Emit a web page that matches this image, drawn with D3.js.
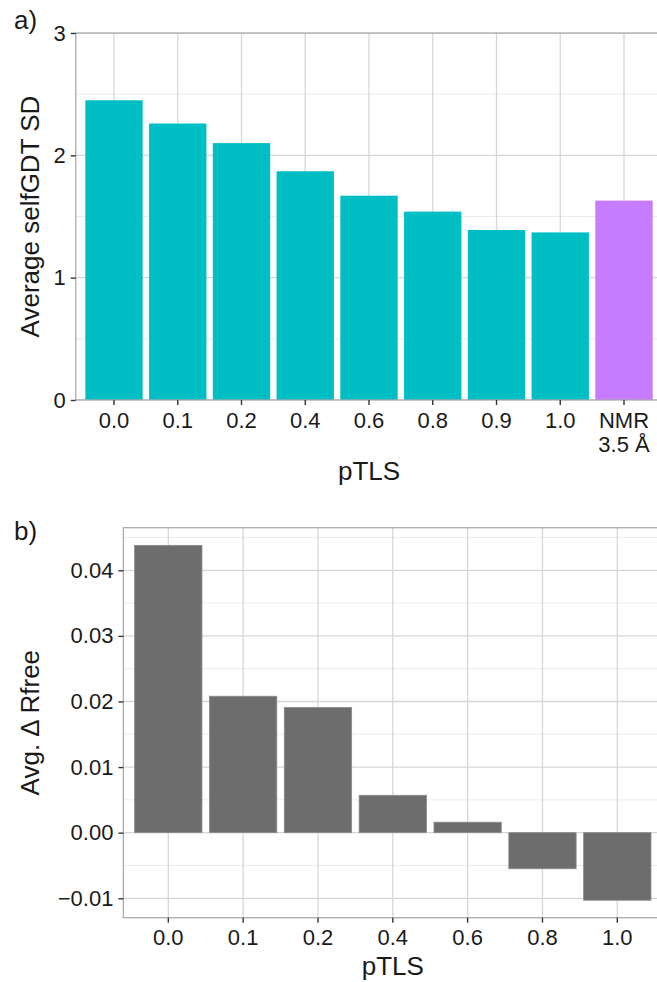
<!DOCTYPE html>
<html>
<head>
<meta charset="utf-8">
<script src="https://cdn.jsdelivr.net/npm/d3@7"></script>
<style>
  body { margin: 0; background: #fff; }
  svg { display: block; font-family: "Liberation Sans", Arial, sans-serif; }
</style>
</head>
<body>
<div id="chart"></div>
<script>
// panel a data
const catsA = ["0.0", "0.1", "0.2", "0.4", "0.6", "0.8", "0.9", "1.0", "NMR\n3.5 Å"];
const valuesA = [2.45, 2.26, 2.10, 1.87, 1.67, 1.54, 1.39, 1.37, 1.63];
const groupA = ["xtal", "xtal", "xtal", "xtal", "xtal", "xtal", "xtal", "xtal", "nmr"];
const ticksA = [0, 1, 2, 3];

// panel b data
const catsB = ["0.0", "0.1", "0.2", "0.4", "0.6", "0.8", "1.0"];
const valuesB = [0.0438, 0.0208, 0.0191, 0.0057, 0.0016, -0.0055, -0.0103];
const ticksB = [-0.01, 0.00, 0.01, 0.02, 0.03, 0.04];

const width = 657, height = 982;
const svg = d3.select("#chart").append("svg")
    .attr("width", width)
    .attr("height", height);

const gridMajor = "#d6d6d6", gridMinor = "#e6e6e6", borderCol = "#aaaaaa";
const textCol = "#1a1a1a";

function panel(opts) {
    const { left, right, top, bottom, cats, values, colors, stroke, yDomain, yTicks, yMinor, yFormat, yTitle, tag, tagY, xTitleY } = opts;

    const x = d3.scaleBand()
        .domain(cats)
        .range([left, right])
        .paddingInner(0.1)
        .paddingOuter(0.15);

    const y = d3.scaleLinear()
        .domain(yDomain)
        .range([bottom, top]);

    const g = svg.append("g");

    // clip so the panel is cut at the right edge like the reference
    const clipId = "clip" + tag.replace(/\W/g, "");
    svg.append("clipPath").attr("id", clipId)
        .append("rect")
        .attr("x", left).attr("y", top)
        .attr("width", right - left).attr("height", bottom - top);

    const inner = g.append("g").attr("clip-path", `url(#${clipId})`);

    // minor grid
    inner.selectAll(".minor")
        .data(yMinor)
        .enter()
        .append("line")
        .attr("x1", left).attr("x2", right)
        .attr("y1", d => y(d)).attr("y2", d => y(d))
        .style("stroke", gridMinor)
        .style("stroke-width", 0.8);

    // major grid
    inner.selectAll(".majorY")
        .data(yTicks)
        .enter()
        .append("line")
        .attr("x1", left).attr("x2", right)
        .attr("y1", d => y(d)).attr("y2", d => y(d))
        .style("stroke", gridMajor)
        .style("stroke-width", 1.3);

    inner.selectAll(".majorX")
        .data(cats)
        .enter()
        .append("line")
        .attr("x1", d => x(d) + x.bandwidth() / 2)
        .attr("x2", d => x(d) + x.bandwidth() / 2)
        .attr("y1", top).attr("y2", bottom)
        .style("stroke", gridMajor)
        .style("stroke-width", 1.3);

    // bars
    inner.selectAll(".bar")
        .data(cats)
        .enter()
        .append("rect")
        .attr("x", d => x(d))
        .attr("width", x.bandwidth())
        .attr("y", (d, i) => y(Math.max(0, values[i])))
        .attr("height", (d, i) => Math.abs(y(values[i]) - y(0)))
        .style("fill", (d, i) => colors[i])
        .style("stroke", stroke || "none")
        .style("stroke-width", 0.8);

    // panel border
    g.append("rect")
        .attr("x", left).attr("y", top)
        .attr("width", right - left).attr("height", bottom - top)
        .style("fill", "none")
        .style("stroke", borderCol)
        .style("stroke-width", 1.3);

    // y axis
    const yAxis = g.append("g")
        .attr("transform", `translate(${left},0)`)
        .call(d3.axisLeft(y).tickValues(yTicks).tickFormat(yFormat).tickSize(5).tickPadding(5));
    yAxis.select(".domain").remove();
    yAxis.selectAll(".tick line").style("stroke", "#333").style("stroke-width", 1.4);
    yAxis.selectAll(".tick text")
        .style("font-size", "22px")
        .style("fill", textCol);

    // x axis
    const xAxis = g.append("g")
        .attr("transform", `translate(0,${bottom})`)
        .call(d3.axisBottom(x).tickSize(5).tickPadding(7));
    xAxis.select(".domain").remove();
    xAxis.selectAll(".tick line").style("stroke", "#333").style("stroke-width", 1.4);
    xAxis.selectAll(".tick text")
        .style("font-size", "22px")
        .style("fill", textCol)
        .each(function(d) {
            const parts = d.split("\n");
            if (parts.length > 1) {
                const t = d3.select(this).text(null);
                parts.forEach((p, i) => {
                    t.append("tspan")
                        .attr("x", 0)
                        .attr("dy", i === 0 ? "0.71em" : "1.1em")
                        .text(p);
                });
            }
        });

    // axis titles
    svg.append("text")
        .attr("x", (left + right) / 2)
        .attr("y", xTitleY)
        .attr("text-anchor", "middle")
        .style("font-size", "26px")
        .style("fill", textCol)
        .text("pTLS");

    svg.append("text")
        .attr("transform", `translate(39,${(top + bottom) / 2}) rotate(-90)`)
        .attr("text-anchor", "middle")
        .style("font-size", "26px")
        .style("fill", textCol)
        .text(yTitle);

    // tag
    svg.append("text")
        .attr("x", 14)
        .attr("y", tagY)
        .style("font-size", "26px")
        .style("fill", textCol)
        .text(tag);
}

panel({
    left: 75.75, right: 662.25, top: 33, bottom: 400,
    cats: catsA, values: valuesA,
    colors: groupA.map(gp => gp === "nmr" ? "#C77CFF" : "#00BFC4"),
    yDomain: [0, 3], yTicks: ticksA, yMinor: [0.5, 1.5, 2.5],
    yFormat: d3.format("d"),
    yTitle: "Average selfGDT SD",
    tag: "a)", tagY: 29, xTitleY: 480
});

panel({
    left: 123.4, right: 662.2, top: 527.7, bottom: 917.7,
    cats: catsB, values: valuesB,
    colors: catsB.map(() => "#6d6d6d"),
    stroke: "#8c8c8c",
    yDomain: [-0.01296, 0.04649], yTicks: ticksB,
    yMinor: [-0.005, 0.005, 0.015, 0.025, 0.035, 0.045],
    yFormat: d3.format(".2f"),
    yTitle: "Avg. Δ Rfree",
    tag: "b)", tagY: 540, xTitleY: 975
});
</script>
</body>
</html>
